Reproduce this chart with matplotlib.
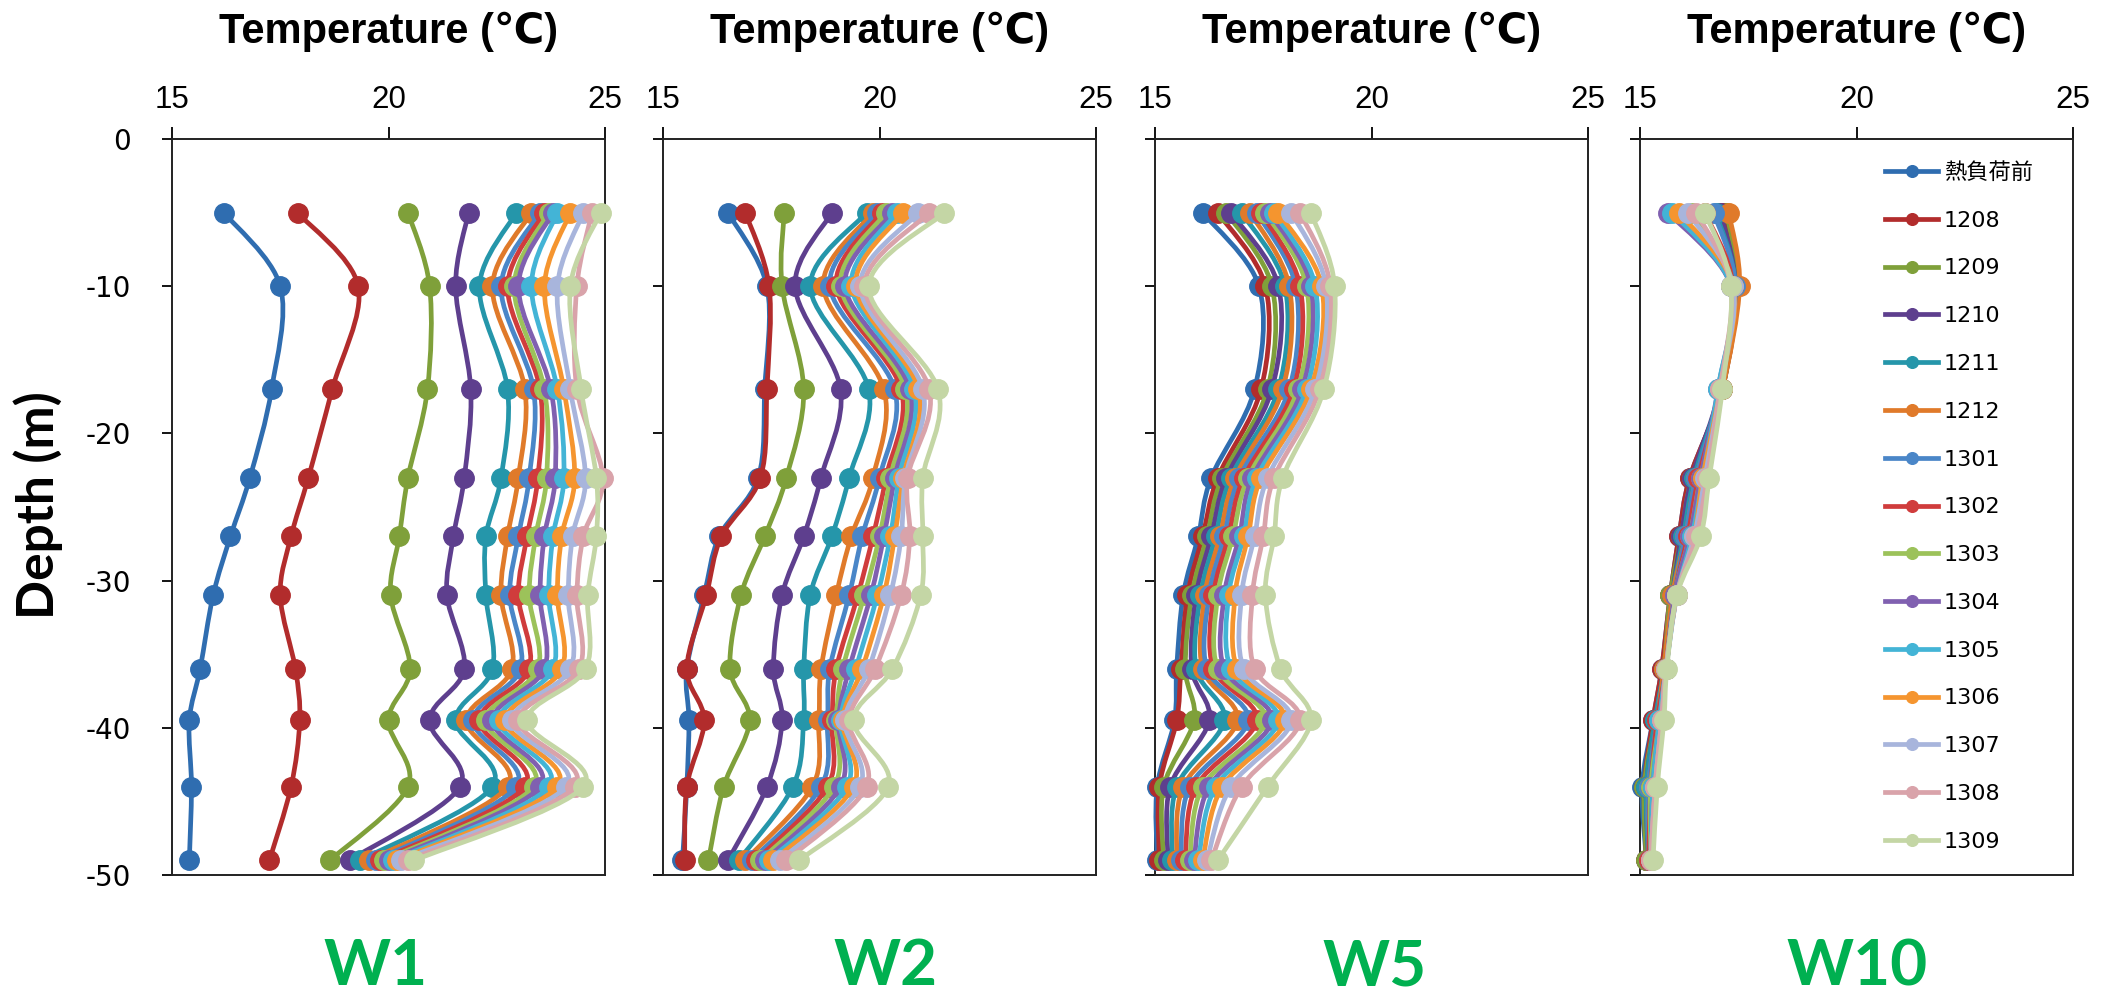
import numpy as np
import matplotlib
matplotlib.use("Agg")
import matplotlib.pyplot as plt
from matplotlib.path import Path
from matplotlib.patches import PathPatch
from matplotlib.lines import Line2D

# ---------------- data ----------------
series_names = ['熱負荷前', '1208', '1209', '1210', '1211', '1212', '1301', '1302',
                '1303', '1304', '1305', '1306', '1307', '1308', '1309']
depths = [-5, -10, -17, -23, -27, -31, -36, -39.5, -44, -49]
well_names = ['W1', 'W2', 'W5', 'W10']
x_ticks = [15, 20, 25]
y_ticks = [0, -10, -20, -30, -40, -50]

# W1: one row per series, values by depth
w1_temp = [
    [16.2, 17.5, 17.3, 16.8, 16.35, 15.95, 15.65, 15.4, 15.45, 15.4],
    [17.9, 19.3, 18.7, 18.15, 17.75, 17.5, 17.85, 17.95, 17.75, 17.25],
    [20.45, 20.95, 20.9, 20.45, 20.25, 20.05, 20.5, 20.0, 20.45, 18.65],
    [21.85, 21.55, 21.9, 21.75, 21.5, 21.35, 21.75, 20.95, 21.65, 19.1],
    [22.95, 22.1, 22.75, 22.6, 22.25, 22.25, 22.4, 21.55, 22.4, 19.35],
    [23.3, 22.4, 23.15, 23.0, 22.75, 22.6, 22.85, 21.8, 22.75, 19.55],
    [23.5, 22.6, 23.35, 23.25, 23.0, 22.8, 23.05, 21.95, 22.95, 19.7],
    [23.6, 22.75, 23.5, 23.45, 23.2, 23.0, 23.25, 22.1, 23.15, 19.8],
    [23.7, 22.9, 23.6, 23.65, 23.4, 23.25, 23.45, 22.25, 23.35, 19.9],
    [23.8, 23.0, 23.75, 23.85, 23.6, 23.5, 23.6, 22.4, 23.5, 20.0],
    [23.9, 23.3, 23.9, 24.05, 23.8, 23.7, 23.8, 22.55, 23.7, 20.1],
    [24.2, 23.6, 24.05, 24.3, 24.0, 23.9, 24.0, 22.7, 23.9, 20.2],
    [24.5, 23.9, 24.2, 24.55, 24.25, 24.15, 24.2, 22.85, 24.1, 20.3],
    [24.7, 24.35, 24.35, 24.95, 24.5, 24.35, 24.4, 23.0, 24.3, 20.45],
    [24.9, 24.2, 24.45, 24.8, 24.8, 24.6, 24.55, 23.2, 24.5, 20.6],
]

# W2: one row per series, values by depth
w2_temp = [
    [16.5, 17.4, 17.35, 17.2, 16.3, 15.95, 15.55, 15.6, 15.55, 15.45],
    [16.9, 17.45, 17.4, 17.25, 16.35, 16.0, 15.55, 15.95, 15.55, 15.5],
    [17.8, 17.75, 18.25, 17.85, 17.35, 16.8, 16.55, 17.0, 16.4, 16.05],
    [18.9, 18.05, 19.1, 18.65, 18.25, 17.75, 17.55, 17.75, 17.4, 16.5],
    [19.7, 18.4, 19.75, 19.3, 18.9, 18.4, 18.25, 18.25, 18.0, 16.75],
    [19.85, 18.7, 20.1, 19.85, 19.35, 19.0, 18.65, 18.6, 18.45, 16.9],
    [19.95, 18.85, 20.35, 20.0, 19.6, 19.3, 18.85, 18.8, 18.65, 17.05],
    [20.05, 19.0, 20.5, 20.15, 19.85, 19.5, 19.0, 18.9, 18.8, 17.15],
    [20.15, 19.1, 20.6, 20.25, 20.0, 19.65, 19.15, 19.0, 18.95, 17.25],
    [20.3, 19.2, 20.7, 20.35, 20.1, 19.8, 19.3, 19.05, 19.1, 17.35],
    [20.4, 19.35, 20.8, 20.45, 20.25, 19.95, 19.45, 19.1, 19.25, 17.45],
    [20.55, 19.45, 20.9, 20.55, 20.35, 20.1, 19.6, 19.15, 19.4, 17.55],
    [20.9, 19.55, 21.0, 20.6, 20.5, 20.25, 19.75, 19.2, 19.55, 17.7],
    [21.15, 19.65, 21.15, 20.65, 20.7, 20.5, 19.9, 19.3, 19.7, 17.85],
    [21.5, 19.75, 21.35, 21.0, 21.0, 20.95, 20.3, 19.4, 20.2, 18.15],
]

# W5: one row per depth, values by series
w5_by_depth = [
    [16.1, 16.45, 16.65, 16.75, 17.0, 17.2, 17.35, 17.45, 17.55, 17.65, 17.75, 17.85, 18.15, 18.35, 18.6],
    [17.4, 17.55, 17.7, 17.85, 18.0, 18.1, 18.25, 18.35, 18.5, 18.6, 18.7, 18.85, 18.95, 19.05, 19.15],
    [17.3, 17.45, 17.6, 17.7, 17.85, 17.95, 18.1, 18.2, 18.3, 18.4, 18.5, 18.6, 18.7, 18.8, 18.9],
    [16.3, 16.45, 16.55, 16.65, 16.75, 16.85, 16.95, 17.05, 17.15, 17.25, 17.35, 17.45, 17.6, 17.75, 17.95],
    [16.0, 16.1, 16.2, 16.3, 16.4, 16.5, 16.6, 16.7, 16.8, 16.95, 17.05, 17.15, 17.3, 17.5, 17.75],
    [15.65, 15.75, 15.85, 15.95, 16.05, 16.15, 16.25, 16.35, 16.45, 16.6, 16.7, 16.85, 17.0, 17.25, 17.55],
    [15.5, 15.6, 15.7, 15.85, 15.95, 16.1, 16.2, 16.35, 16.45, 16.6, 16.75, 16.9, 17.05, 17.3, 17.9],
    [15.45, 15.5, 15.9, 16.25, 16.6, 16.9, 17.15, 17.35, 17.55, 17.7, 17.85, 18.0, 18.15, 18.35, 18.6],
    [15.05, 15.1, 15.2, 15.35, 15.5, 15.65, 15.8, 15.95, 16.1, 16.25, 16.4, 16.55, 16.75, 17.0, 17.6],
    [15.05, 15.1, 15.2, 15.3, 15.4, 15.5, 15.6, 15.7, 15.8, 15.9, 16.0, 16.1, 16.2, 16.3, 16.45],
]

# W10: one row per depth, values by series
w10_by_depth = [
    [16.9, 16.95, 17.0, 16.85, 16.75, 17.05, 16.7, 16.5, 16.2, 15.65, 15.75, 15.9, 16.1, 16.3, 16.5],
    [17.2, 17.25, 17.25, 17.2, 17.2, 17.3, 17.2, 17.15, 17.15, 17.1, 17.1, 17.15, 17.15, 17.1, 17.1],
    [16.9, 16.9, 16.9, 16.85, 16.85, 16.9, 16.85, 16.85, 16.85, 16.8, 16.8, 16.85, 16.85, 16.85, 16.9],
    [16.15, 16.15, 16.2, 16.2, 16.25, 16.3, 16.3, 16.35, 16.4, 16.4, 16.45, 16.45, 16.5, 16.55, 16.6],
    [15.9, 15.9, 15.95, 15.95, 16.0, 16.05, 16.05, 16.1, 16.15, 16.15, 16.2, 16.25, 16.25, 16.3, 16.4],
    [15.7, 15.7, 15.7, 15.75, 15.75, 15.75, 15.8, 15.8, 15.8, 15.8, 15.85, 15.85, 15.85, 15.85, 15.85],
    [15.5, 15.5, 15.55, 15.55, 15.55, 15.55, 15.6, 15.6, 15.6, 15.6, 15.6, 15.6, 15.6, 15.6, 15.62],
    [15.3, 15.3, 15.35, 15.35, 15.35, 15.4, 15.4, 15.4, 15.45, 15.45, 15.45, 15.5, 15.5, 15.5, 15.55],
    [15.05, 15.1, 15.1, 15.15, 15.15, 15.2, 15.2, 15.25, 15.25, 15.3, 15.3, 15.35, 15.35, 15.35, 15.4],
    [15.15, 15.15, 15.15, 15.2, 15.2, 15.2, 15.2, 15.2, 15.25, 15.25, 15.25, 15.25, 15.25, 15.25, 15.3],
]

series_colors = ['#2F6DB0', '#B22C2C', '#7FA03A', '#5E3F8E', '#2596AA', '#E07A2A',
                 '#4A86C8', '#D03C3C', '#9CC25A', '#8060B0', '#43B4D6', '#F5952F',
                 '#A8B5DC', '#D9A3AA', '#C4D6A5']

wells = [np.array(w1_temp), np.array(w2_temp),
         np.array(w5_by_depth).T, np.array(w10_by_depth).T]


def smooth_path(xs, ys):
    """Excel-like smoothed line: cubic Bezier through the data points."""
    pts = np.column_stack([xs, ys]).astype(float)
    n = len(pts)
    verts = [pts[0]]
    codes = [Path.MOVETO]
    for i in range(n - 1):
        p0 = pts[i - 1] if i > 0 else pts[i]
        p1 = pts[i]
        p2 = pts[i + 1]
        p3 = pts[i + 2] if i + 2 < n else pts[i + 1]
        verts += [p1 + (p2 - p0) / 6.0, p2 - (p3 - p1) / 6.0, p2]
        codes += [Path.CURVE4] * 3
    return Path(verts, codes)


# ---------------- figure ----------------
W, H = 2110, 991
fig = plt.figure(figsize=(W / 100, H / 100), dpi=100)

ax_left_px = [172, 663, 1155, 1640]
ax_w_px = 433
ax_top_px, ax_bot_px = 139, 875
label_cx_px = [376, 886, 1375, 1857]

title_font = ['Liberation Sans', 'DejaVu Sans', 'Noto Sans CJK JP']
legend_font = ['DejaVu Sans', 'Noto Sans CJK JP']
LW, MS = 3.4, 14

axes = []
for i, data in enumerate(wells):
    ax = fig.add_axes([ax_left_px[i] / W, 1 - ax_bot_px / H,
                       ax_w_px / W, (ax_bot_px - ax_top_px) / H])
    axes.append(ax)
    for s in range(len(series_names)):
        c = series_colors[s]
        patch = PathPatch(smooth_path(data[s], depths), fill=False,
                          edgecolor=c, lw=LW, joinstyle='round',
                          capstyle='round', transform=ax.transData,
                          clip_on=False, zorder=3 + s)
        ax.add_patch(patch)
        ax.plot(data[s], depths, linestyle='none', marker='o', ms=MS,
                mec=c, mfc=c, clip_on=False, zorder=3.5 + s)
    ax.set_xlim(15, 25)
    ax.set_ylim(-50, 0)
    ax.xaxis.tick_top()
    ax.set_xticks(x_ticks)
    ax.set_xticklabels([str(t) for t in x_ticks], fontsize=22.5,
                       family=title_font)
    ax.set_yticks(y_ticks)
    ax.tick_params(axis='x', direction='out', length=8.5, width=1.3, pad=9,
                   top=True, bottom=False)
    ax.tick_params(axis='y', direction='out', length=7.5, width=1.3, pad=22)
    if i == 0:
        ax.set_yticklabels([str(t) for t in y_ticks], fontsize=20,
                           family='DejaVu Sans')
    else:
        ax.set_yticklabels([])
    for sp in ax.spines.values():
        sp.set_linewidth(1.4)
        sp.set_color('#222222')

    cx = (ax_left_px[i] + ax_w_px / 2) / W
    fig.text(cx, 1 - 43 / H, 'Temperature (℃)', ha='center', va='baseline',
             fontsize=30, fontweight='bold', family=title_font)
    fig.text(label_cx_px[i] / W, 1 - 985 / H, well_names[i], ha='center',
             va='baseline', fontsize=46, fontweight='bold', family='Lato',
             color='#00B050')

fig.text(38 / W, 1 - 505 / H, 'Depth (m)', rotation=90, ha='center',
         va='center', fontsize=37, fontweight='bold', family='Lato')

handles = [Line2D([], [], color=series_colors[s], lw=LW, marker='o', ms=MS,
                  mec=series_colors[s], mfc=series_colors[s])
           for s in range(len(series_names))]
leg = axes[3].legend(handles, series_names, loc='upper left',
                     bbox_to_anchor=(1885 / W, 1 - 162 / H),
                     bbox_transform=fig.transFigure, frameon=False,
                     prop={'family': legend_font, 'size': 16},
                     handlelength=2.4, handletextpad=0.25, labelspacing=1.25,
                     markerscale=0.6, borderpad=0, borderaxespad=0)

fig.savefig('out.png', dpi=100, facecolor='white')
